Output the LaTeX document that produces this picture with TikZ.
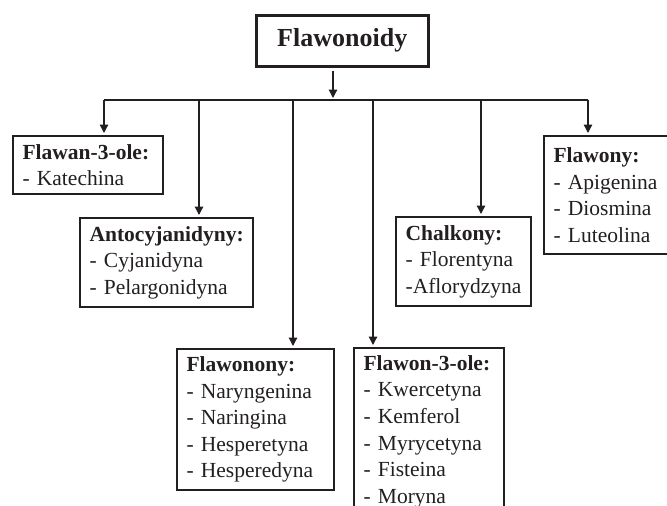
\documentclass[tikz,border=0pt]{standalone}
\usepackage{fontspec}
\setmainfont{Liberation Serif}
\usetikzlibrary{arrows.meta}
\definecolor{ink}{HTML}{231F20}
\begin{document}
\begin{tikzpicture}[x=1pt,y=-1pt,
  box/.style={draw=ink, line width=2.2pt, anchor=north west, align=left,
    inner xsep=9.5pt, inner ysep=0pt, text=ink,
    font=\fontsize{21.5}{26.6}\selectfont},
  topbox/.style={draw=ink, line width=2.5pt, anchor=north west,
    minimum width=172pt, minimum height=51pt, inner sep=0pt, text=ink,
    font=\bfseries\fontsize{26}{30}\selectfont},
  conn/.style={draw=ink, line width=1.3pt},
  arr/.style={conn, -{Triangle[length=8.5pt,width=8.5pt]}, shorten >=2pt}]
\useasboundingbox (0,0) rectangle (667,506);
\clip (0,0) rectangle (667,506);

\node[topbox] (top) at (255,14) {Flawonoidy};

\node[box, text width=131pt, minimum height=58pt] (flawan) at (12,135)
  {\textbf{Flawan-3-ole:}\\- Katechina};
\node[box, text width=154pt, minimum height=89pt] (anto) at (79,217)
  {\textbf{Antocyjanidyny:}\\- Cyjanidyna\\- Pelargonidyna};
\node[box, text width=138pt, minimum height=141pt] (flavanon) at (176,348)
  {\textbf{Flawonony:}\\- Naryngenina\\- Naringina\\- Hesperetyna\\- Hesperedyna};
\node[box, text width=131pt, minimum height=167pt] (flavonol) at (353,347)
  {\textbf{Flawon-3-ole:}\\- Kwercetyna\\- Kemferol\\- Myrycetyna\\- Fisteina\\- Moryna};
\node[box, text width=116pt, minimum height=89pt] (chalk) at (395,216)
  {\textbf{Chalkony:}\\- Florentyna\\-Aflorydzyna};
\node[box, text width=138pt, minimum height=118pt] (flavone) at (543,135)
  {\textbf{Flawony:}\\- Apigenina\\- Diosmina\\- Luteolina};

\coordinate (hub) at (333,100);
\coordinate (d1) at (104,100);
\coordinate (d2) at (199,100);
\coordinate (d3) at (293,100);
\coordinate (d4) at (373,100);
\coordinate (d5) at (481,100);
\coordinate (d6) at (588,100);

\draw[arr] ([yshift=-3pt]top.south -| hub) -- (hub);
\draw[conn] (d1) -- (d6);
\draw[arr] (d1) -- (d1 |- flawan.north);
\draw[arr] (d2) -- (d2 |- anto.north);
\draw[arr] (d3) -- (d3 |- flavanon.north);
\draw[arr] (d4) -- (d4 |- flavonol.north);
\draw[arr] (d5) -- (d5 |- chalk.north);
\draw[arr] (d6) -- (d6 |- flavone.north);
\end{tikzpicture}
\end{document}
